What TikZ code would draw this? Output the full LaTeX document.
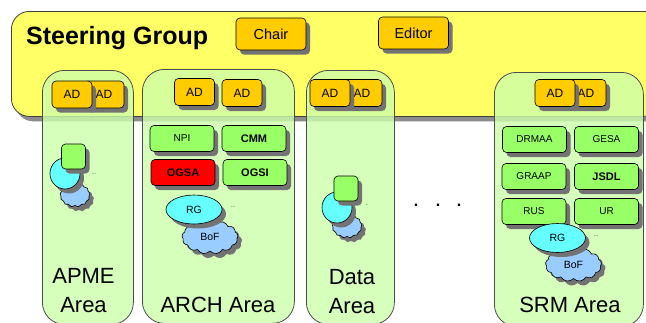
\documentclass[tikz,border=0pt]{standalone}
\usepackage{fontspec}
\setmainfont{Liberation Sans}
\usetikzlibrary{shapes.geometric,shapes.symbols,shadows}
\definecolor{sgyellow}{HTML}{FFFF66}
\definecolor{adorange}{HTML}{FFCC00}
\definecolor{wggreen}{HTML}{99FF66}
\definecolor{rgcyan}{HTML}{66FFFF}
\definecolor{bofblue}{HTML}{99CCFF}
\definecolor{areagreen}{HTML}{CCFFAA}
\tikzset{
  speckle/.style={general shadow={shadow xshift=4pt,shadow yshift=-4.5pt,fill=black!55,
    draw=none}},
  sgbox/.style={draw=black!75,line width=.8pt,fill=sgyellow,rounded corners=18pt,
    minimum width=650pt,minimum height=105pt,
    general shadow={shadow xshift=4pt,shadow yshift=-5pt,fill=black!45,draw=none}},
  areabox/.style={draw=black!70,line width=.8pt,fill=areagreen,fill opacity=.8,
    rounded corners=22pt,minimum height=254pt},
  adbox/.style={draw,line width=.6pt,fill=adorange,rounded corners=4pt,inner sep=0pt,
    minimum width=40pt,minimum height=27pt,font=\fontsize{12}{12}\selectfont,speckle},
  officebox/.style={adbox,minimum width=70pt,minimum height=32pt,
    font=\fontsize{14.5}{14.5}\selectfont},
  wgbox/.style={draw,line width=.6pt,fill=wggreen,rounded corners=4pt,inner sep=0pt,
    minimum width=64pt,minimum height=26pt,font=\fontsize{10}{10}\selectfont,speckle},
  wgbold/.style={wgbox,font=\fontsize{11}{11}\bfseries\selectfont},
  wgred/.style={wgbold,fill=red},
  wgsmall/.style={wgbox,minimum width=24pt,minimum height=25pt},
  rgshape/.style={ellipse,draw,line width=.6pt,fill=rgcyan,inner sep=0pt,
    minimum width=56pt,minimum height=29pt,font=\fontsize{10.5}{10.5}\selectfont,speckle},
  rgsmall/.style={rgshape,minimum width=30pt,minimum height=31pt},
  bofshape/.style={cloud,cloud puffs=13,cloud puff arc=110,aspect=1.6,draw,line width=.6pt,
    fill=bofblue,inner sep=0pt,minimum width=56pt,minimum height=34pt,
    font=\fontsize{10.5}{10.5}\selectfont,speckle},
  bofsmall/.style={bofshape,minimum width=30pt,minimum height=24pt,aspect=1.2},
  arealabel/.style={align=center,font=\fontsize{22}{29}\selectfont,inner sep=0pt},
  moredots/.style={text=black!60,inner sep=0pt,font=\fontsize{8}{8}\selectfont}
}
\begin{document}
\begin{tikzpicture}[x=1pt,y=-1pt]
  \useasboundingbox (0,0) rectangle (646,322);
  \clip (0,0) rectangle (646,322);
  % steering group
  \node[sgbox,anchor=north west] (sg) at (11,11) {};
  \node[anchor=base west,inner sep=0pt,font=\fontsize{25}{25}\bfseries\selectfont]
    (sgtitle) at (26,44) {Steering Group};
  \draw[every node/.style={officebox}]
    (271,34) node (chair){Chair}
    (413.5,33) node (editor){Editor};
  % areas
  \node[areabox,anchor=north west,minimum width=91pt] (apme) at (42,70) {};
  \node[areabox,anchor=north west,minimum width=152pt] (arch) at (142,69) {};
  \node[areabox,anchor=north west,minimum width=88pt] (data) at (306,70) {};
  \node[areabox,anchor=north west,minimum width=149pt] (srm) at (494,72) {};
  % area directors
  \draw[every node/.style={adbox}]
    (104,94.5) node (apmead2){AD}
    (72,94.5) node (apmead1){AD}
    (194.5,92) node (archad1){AD}
    (242,93) node (archad2){AD}
    (362,93) node (dataad2){AD}
    (330,93) node (dataad1){AD}
    (586,93) node (srmad2){AD}
    (555,93) node (srmad1){AD};
  % working groups
  \draw[every node/.style={wgbox}]
    (182,138.5) node (npi){NPI}
    (534.5,139.5) node (drmaa){DRMAA}
    (606.5,139.5) node (gesa){GESA}
    (534,176.5) node (graap){GRAAP}
    (534,211.5) node (rus){RUS}
    (606.5,211.5) node (ur){UR};
  \draw[every node/.style={wgbold}]
    (254,138.5) node (cmm){CMM}
    (255,172.5) node (ogsi){OGSI}
    (606.5,176.5) node (jsdl){JSDL};
  \node[wgred] (ogsa) at (183,172.5) {OGSA};
  % research groups and bofs
  \node[bofshape] (archbof) at (210,237) {BoF};
  \node[rgshape] (archrg) at (194,209.5) {RG};
  \node[bofshape] (srmbof) at (573.5,264.5) {BoF};
  \node[rgshape] (srmrg) at (557.5,238) {RG};
  \node[bofsmall] (apmebof) at (75,195) {};
  \node[rgsmall] (apmerg) at (65,173.5) {};
  \node[wgsmall] (apmewg) at (73.5,156.5) {};
  \node[bofsmall] (databof) at (347,226) {};
  \node[rgsmall] (datarg) at (337,207.5) {};
  \node[wgsmall] (datawg) at (346,188.5) {};
  % more groups
  \draw[every node/.style={moredots}]
    (94,174) node (apmemore){..}
    (233,207) node (archmore){..}
    (367,205) node (datamore){.}
    (596,236) node (srmmore){..};
  \draw[every node/.style={inner sep=0pt,font=\fontsize{16}{16}\bfseries\selectfont}]
    (416,205) node (dot1){.}
    (438,205) node (dot2){.}
    (459,205) node (dot3){.};
  % area names
  \node[arealabel,anchor=base] (apmelabel) at (83.5,312) {APME\\Area};
  \node[arealabel,anchor=base] (archlabel) at (218,312) {ARCH Area};
  \node[arealabel,anchor=base] (datalabel) at (352,313) {Data\\Area};
  \node[arealabel,anchor=base] (srmlabel) at (570,312) {SRM Area};
\end{tikzpicture}
\end{document}
